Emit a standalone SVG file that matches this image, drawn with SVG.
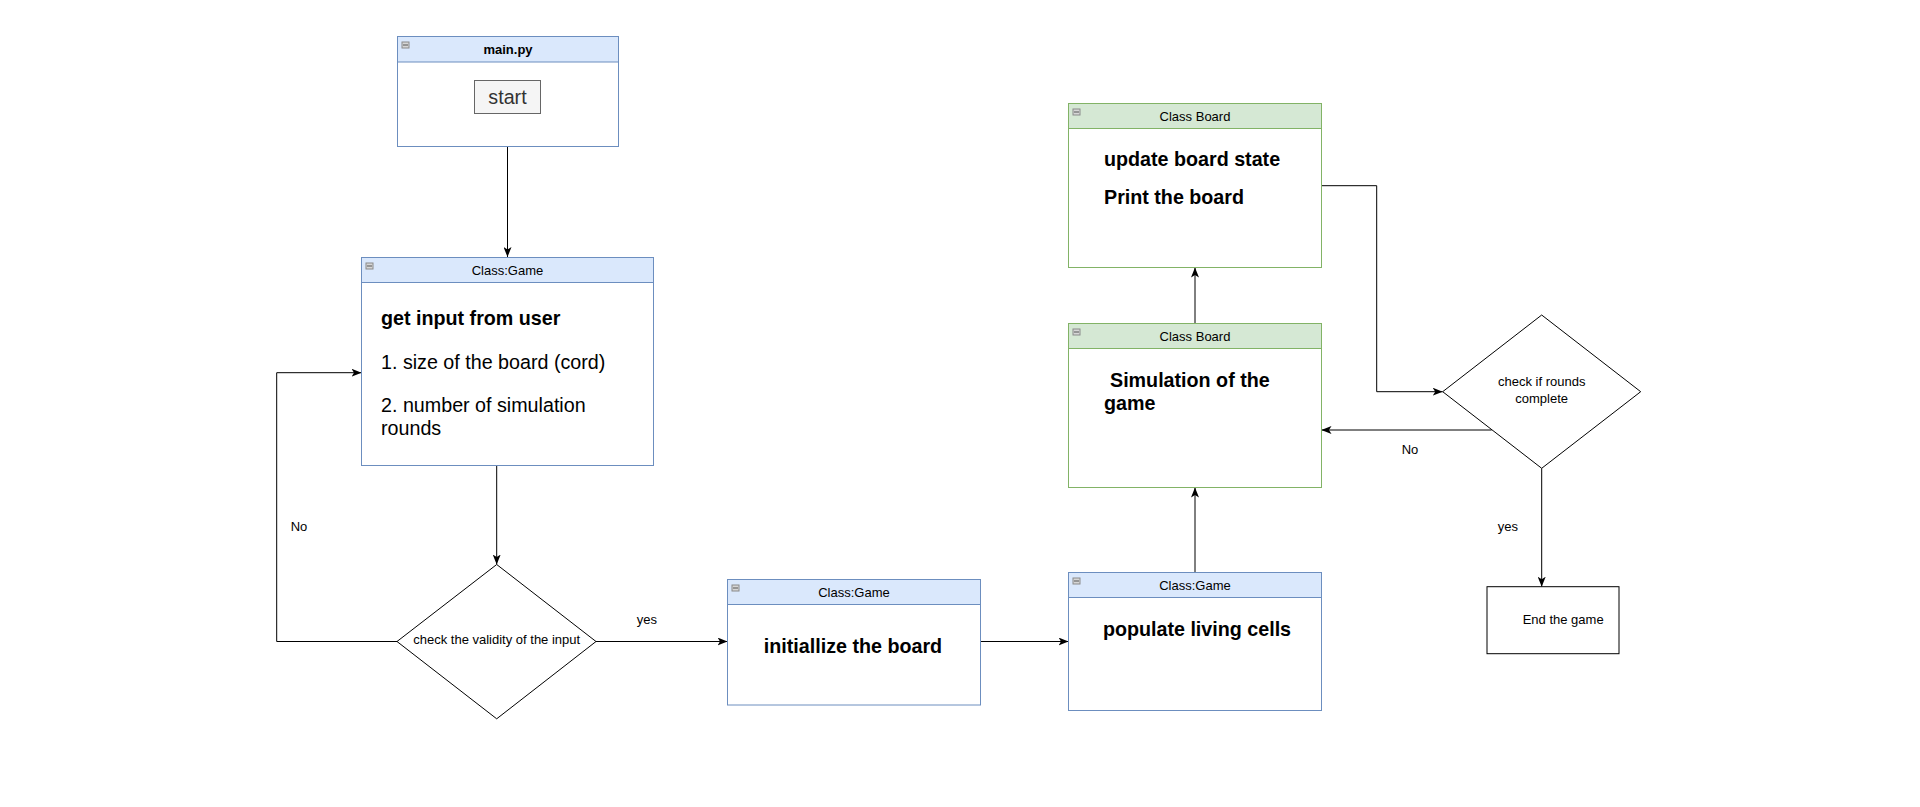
<svg xmlns="http://www.w3.org/2000/svg" width="1920" height="807" viewBox="0 0 1920 807">
<style>
text{font-family:"Liberation Sans",Arial,sans-serif;fill:#000}
.hdr{font-size:13px;text-anchor:middle}
.hb{font-weight:bold}
.body{font-size:19.7px}
.bold{font-weight:bold}
.lbl{font-size:13px}
.mid{text-anchor:middle}
.box{fill:#fff;stroke-width:1}
.blue{stroke:#6c8ebf}
.green{stroke:#82b366}
.hblue{fill:#dae8fc;stroke:#6c8ebf}
.hgreen{fill:#d5e8d4;stroke:#82b366}
.icon{fill:#d6d6d6;stroke:#8a8a8a;stroke-width:1}
.edge{fill:none;stroke:#000;stroke-width:1}
.shape{fill:#fff;stroke:#000;stroke-width:1}
</style>
<defs>
<marker id="arr" markerUnits="userSpaceOnUse" viewBox="0 0 10 8" markerWidth="10" markerHeight="8" refX="10" refY="4" orient="auto">
<path d="M0,0 L10,4 L0,8 L2.5,4 Z" fill="#000"/>
</marker>
<g id="icn"><rect class="icon" x="0" y="0" width="7" height="6"/><line x1="1" y1="3" x2="6" y2="3" stroke="#555" stroke-width="1"/></g>
</defs>
<rect width="1920" height="807" fill="#fff"/>

<g id="connectors">
<path class="edge" d="M507.5,147 V257" marker-end="url(#arr)"/>
<path class="edge" d="M496.7,466 V564.5" marker-end="url(#arr)"/>
<path class="edge" d="M397,641.5 H276.7 V372.7 H361.5" marker-end="url(#arr)"/>
<path class="edge" d="M596,641.5 H727.5" marker-end="url(#arr)"/>
<path class="edge" d="M981,641.5 H1068.5" marker-end="url(#arr)"/>
<path class="edge" d="M1195,572.5 V487.5" marker-end="url(#arr)"/>
<path class="edge" d="M1195,323.5 V267.5" marker-end="url(#arr)"/>
<path class="edge" d="M1321.5,185.7 H1376.7 V391.7 H1442.7" marker-end="url(#arr)"/>
<path class="edge" d="M1491.7,430 H1321.5" marker-end="url(#arr)"/>
<path class="edge" d="M1541.7,468.3 V586.7" marker-end="url(#arr)"/>
<text class="lbl" x="290.7" y="530.7">No</text>
<text class="lbl" x="636.7" y="624">yes</text>
<text class="lbl" x="1401.7" y="454">No</text>
<text class="lbl" x="1497.7" y="531">yes</text>
</g>

<g id="main">
<rect class="box blue" x="397.5" y="36.5" width="221" height="110"/>
<rect class="hblue" x="397.5" y="36.5" width="221" height="25.5"/>
<use href="#icn" x="402" y="42"/>
<text class="hdr hb" x="508" y="54">main.py</text>
<rect x="474.5" y="80.5" width="66" height="33" fill="#f5f5f5" stroke="#666"/>
<text class="body mid" x="507.5" y="104" style="fill:#333">start</text>
</g>

<g id="game-input">
<rect class="box blue" x="361.5" y="257.5" width="292" height="208"/>
<rect class="hblue" x="361.5" y="257.5" width="292" height="25"/>
<use href="#icn" x="366" y="263"/>
<text class="hdr" x="507.5" y="274.5">Class:Game</text>
<text class="body bold" x="381" y="325">get input from user</text>
<text class="body" x="381" y="369">1. size of the board (cord)</text>
<text class="body" x="381" y="412.3">2. number of simulation</text>
<text class="body" x="381" y="435.3">rounds</text>
</g>

<g id="check-validity">
<polygon class="shape" points="496.7,564.5 596,641.5 496.7,718.8 397,641.5"/>
<text class="lbl mid" x="496.7" y="643.5">check the validity of the input</text>
</g>

<g id="init-board">
<rect class="box blue" x="727.5" y="579.5" width="253" height="125.5"/>
<rect class="hblue" x="727.5" y="579.5" width="253" height="25"/>
<use href="#icn" x="732" y="585"/>
<text class="hdr" x="854" y="596.5">Class:Game</text>
<text class="body bold mid" x="853" y="653">initiallize the board</text>
</g>

<g id="populate">
<rect class="box blue" x="1068.5" y="572.5" width="253" height="138"/>
<rect class="hblue" x="1068.5" y="572.5" width="253" height="25"/>
<use href="#icn" x="1073" y="578"/>
<text class="hdr" x="1195" y="589.5">Class:Game</text>
<text class="body bold mid" x="1197" y="636">populate living cells</text>
</g>

<g id="simulation">
<rect class="box green" x="1068.5" y="323.5" width="253" height="164"/>
<rect class="hgreen" x="1068.5" y="323.5" width="253" height="25"/>
<use href="#icn" x="1073" y="329"/>
<text class="hdr" x="1195" y="340.5">Class Board</text>
<text class="body bold" x="1110" y="386.7">Simulation of the</text>
<text class="body bold" x="1104" y="410">game</text>
</g>

<g id="update-board">
<rect class="box green" x="1068.5" y="103.5" width="253" height="164"/>
<rect class="hgreen" x="1068.5" y="103.5" width="253" height="25"/>
<use href="#icn" x="1073" y="109"/>
<text class="hdr" x="1195" y="120.5">Class Board</text>
<text class="body bold" x="1104" y="166">update board state</text>
<text class="body bold" x="1104" y="203.5">Print the board</text>
</g>

<g id="check-rounds">
<polygon class="shape" points="1541.7,315 1640.7,391.7 1541.7,468.3 1442.7,391.7"/>
<text class="lbl mid" x="1541.7" y="385.7">check if rounds</text>
<text class="lbl mid" x="1541.7" y="402.7">complete</text>
</g>

<g id="end-game">
<rect class="shape" x="1487" y="586.7" width="132" height="67" stroke="#333"/>
<text class="lbl" x="1522.7" y="624">End the game</text>
</g>
</svg>
